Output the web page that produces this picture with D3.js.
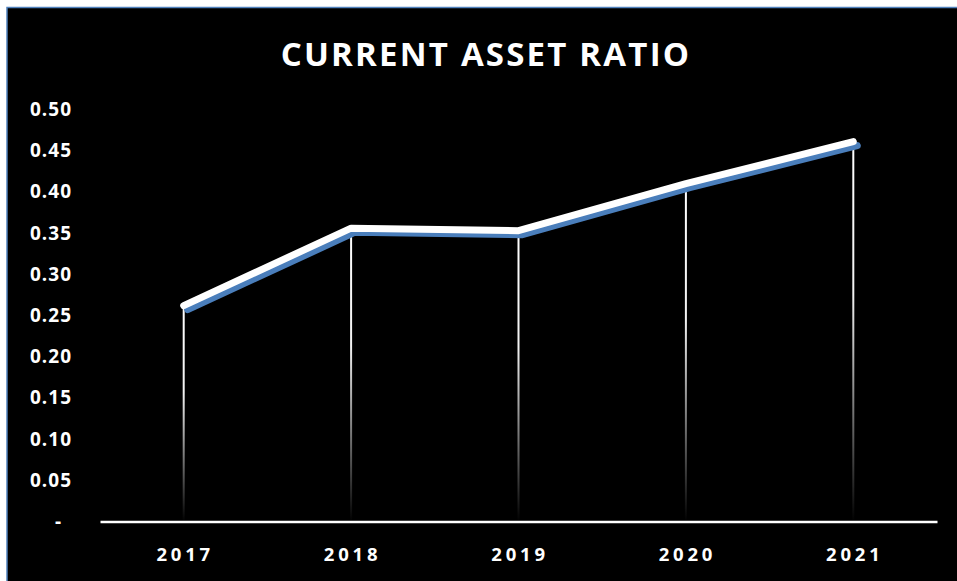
<!DOCTYPE html>
<html>
<head>
<meta charset="utf-8">
<script src="https://cdn.jsdelivr.net/npm/d3@7"></script>
<style>
  html, body { margin: 0; padding: 0; background: #ffffff; }
  svg { display: block; }
  text { font-family: "Open Sans", "DejaVu Sans", sans-serif; }
</style>
</head>
<body>
<svg id="chart" width="957" height="581"></svg>
<script>
// Current asset ratio by year
const years = ["2017", "2018", "2019", "2020", "2021"];
const ratios = [0.262, 0.356, 0.353, 0.410, 0.461];
const yTicks = [0, 0.05, 0.10, 0.15, 0.20, 0.25, 0.30, 0.35, 0.40, 0.45, 0.50];
const chartTitle = "CURRENT ASSET RATIO";

const W = 957, H = 581;
const svg = d3.select("#chart");

// chart area frame
svg.append("rect")
  .attr("x", 7).attr("y", 7.5)
  .attr("width", W).attr("height", H)
  .attr("fill", "#000000")
  .attr("stroke", "#4f81bd").attr("stroke-width", 1.5);

const plot = { left: 100, right: 937, top: 109.5, bottom: 521.5 };

const x = d3.scaleBand().domain(years).range([plot.left, plot.right]).padding(0);
const y = d3.scaleLinear().domain([0, 0.5]).range([plot.bottom, plot.top]);

// title
svg.append("text")
  .attr("x", 486).attr("y", 66)
  .attr("text-anchor", "middle")
  .attr("fill", "#ffffff")
  .attr("font-size", 33)
  .attr("font-weight", 700)
  .attr("letter-spacing", 2.2)
  .text(chartTitle);

// y axis labels (no axis line)
const yAxis = d3.axisLeft(y)
  .tickValues(yTicks)
  .tickSize(0)
  .tickPadding(0)
  .tickFormat(d => d === 0 ? "-" : d3.format(".2f")(d));
const yg = svg.append("g").attr("transform", "translate(72,0)").call(yAxis);
yg.select(".domain").remove();
yg.selectAll("text")
  .attr("fill", "#ffffff")
  .attr("font-size", 19)
  .attr("font-weight", 700)
  .attr("letter-spacing", 1)
  .attr("font-family", "'Open Sans', sans-serif")
  .attr("dx", d => d === 0 ? -10 : 0);

// gradient for drop lines: white at the point fading to black at the axis
const defs = svg.append("defs");
const grad = defs.append("linearGradient")
  .attr("id", "dropFade")
  .attr("x1", 0).attr("y1", 0).attr("x2", 0).attr("y2", 1);
grad.append("stop").attr("offset", "0%").attr("stop-color", "#ffffff");
grad.append("stop").attr("offset", "40%").attr("stop-color", "#f2f2f2");
grad.append("stop").attr("offset", "100%").attr("stop-color", "#000000");

const pts = years.map((yr, i) => ({ yr, v: ratios[i] }));
const cx = d => x(d.yr) + x.bandwidth() / 2;

// drop lines
svg.append("g").selectAll("rect")
  .data(pts)
  .join("rect")
  .attr("x", d => cx(d) - 1)
  .attr("y", d => y(d.v))
  .attr("width", 2)
  .attr("height", d => plot.bottom - y(d.v))
  .attr("fill", "url(#dropFade)");

// x axis
const xAxis = d3.axisBottom(x).tickSize(0).tickPadding(0);
const xg = svg.append("g").attr("transform", `translate(0,${plot.bottom})`).call(xAxis);
xg.select(".domain")
  .attr("stroke", "#ffffff")
  .attr("stroke-width", 2.5);
xg.selectAll("text")
  .attr("fill", "#ffffff")
  .attr("font-size", 18.5)
  .attr("font-weight", 700)
  .attr("letter-spacing", 3.8)
  .attr("font-family", "'Open Sans', sans-serif")
  .attr("dy", 0)
  .attr("dx", 1.5)
  .attr("y", 39);

// series line with blue drop shadow
const line = d3.line().x(cx).y(d => y(d.v));

svg.append("path")
  .datum(pts)
  .attr("d", line)
  .attr("transform", "translate(4,4)")
  .attr("fill", "none")
  .attr("stroke", "#4a7ebb")
  .attr("stroke-width", 7)
  .attr("stroke-linejoin", "round")
  .attr("stroke-linecap", "round");

svg.append("path")
  .datum(pts)
  .attr("d", line)
  .attr("fill", "none")
  .attr("stroke", "#ffffff")
  .attr("stroke-width", 7)
  .attr("stroke-linejoin", "round")
  .attr("stroke-linecap", "round");
</script>
</body>
</html>
